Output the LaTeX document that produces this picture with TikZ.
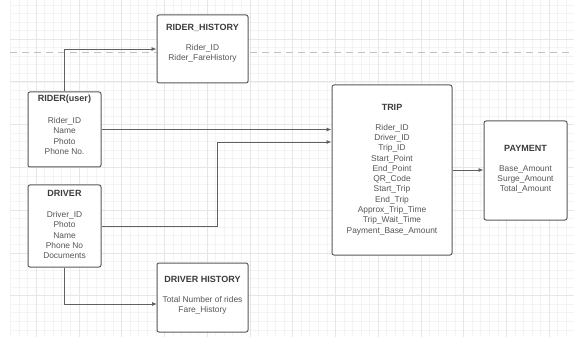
\documentclass[tikz,border=0pt]{standalone}
\usepackage{fontspec}
\setmainfont{Liberation Sans}
\usetikzlibrary{arrows.meta}
\definecolor{boxline}{HTML}{5A5A5A}
\definecolor{txt}{HTML}{555555}
\definecolor{ttl}{HTML}{3C3C3C}
\definecolor{minorgrid}{HTML}{F4F4F4}
\definecolor{majorgrid}{HTML}{E6E6E6}
\definecolor{dashcol}{HTML}{C2C2C2}
\definecolor{conn}{HTML}{606060}
\tikzset{
  entity/.style={draw=boxline, line width=1pt, rounded corners=2pt, fill=white, inner sep=0pt},
  ttext/.style={font=\bfseries\fontsize{9}{11}\selectfont, text=ttl, inner sep=0pt},
  btext/.style={font=\fontsize{8.4}{10.3}\selectfont, text=txt, align=center, inner sep=0pt},
  conn/.style={draw=conn, line width=0.8pt, -{Latex[length=5pt,width=4pt]}},
}
\begin{document}
\begin{tikzpicture}[x=1pt,y=-1pt]
\useasboundingbox (0,0) rectangle (574,337);
\fill[white] (0,0) rectangle (574,337);
% grid
\foreach \i in {0,...,66} {
  \draw[minorgrid, line width=0.4pt] ({10.35+8.55*\i},0) -- ({10.35+8.55*\i},337);
}
\foreach \j in {0,...,39} {
  \draw[minorgrid, line width=0.4pt] (10,{4.8+8.55*\j}) -- (574,{4.8+8.55*\j});
}
\foreach \i in {0,...,12} {
  \draw[majorgrid, line width=0.5pt] ({36+42.75*\i},0) -- ({36+42.75*\i},337);
}
\foreach \j in {0,...,7} {
  \draw[majorgrid, line width=0.5pt] (10,{39+42.75*\j}) -- (574,{39+42.75*\j});
}
\draw[dashcol, line width=1pt, dash pattern=on 7pt off 5pt] (10,53) -- (574,53);

% boxes
\node[entity, minimum width=91pt, minimum height=68pt] (rh) at (202.5,49) {};
\node[entity, minimum width=73pt, minimum height=75pt] (rider) at (64.5,129.5) {};
\node[entity, minimum width=73pt, minimum height=82pt] (driver) at (64.5,226) {};
\node[entity, minimum width=91pt, minimum height=69pt] (dh) at (202.5,297.5) {};
\node[entity, minimum width=120pt, minimum height=170pt] (trip) at (392,170) {};
\node[entity, minimum width=83pt, minimum height=99pt] (pay) at (525.5,170.5) {};

% texts
\node[ttext] (rhT) at (202.5,28) {RIDER\_HISTORY};
\node[btext] (rhB) at (202.5,53.5) {Rider\_ID\\Rider\_FareHistory};
\node[ttext] (riderT) at (64.5,99) {RIDER(user)};
\node[btext] (riderB) at (64.5,136) {Rider\_ID\\Name\\Photo\\Phone No.};
\node[ttext] (driverT) at (64.5,193) {DRIVER};
\node[btext] (driverB) at (64.5,235) {Driver\_ID\\Photo\\Name\\Phone No\\Documents};
\node[ttext] (dhT) at (202.5,279) {DRIVER HISTORY};
\node[btext] (dhB) at (202.5,305.5) {Total Number of rides\\Fare\_History};
\node[ttext] (tripT) at (392,107) {TRIP};
\node[btext] (tripB) at (392,179.5) {Rider\_ID\\Driver\_ID\\Trip\_ID\\Start\_Point\\End\_Point\\QR\_Code\\Start\_Trip\\End\_Trip\\Approx\_Trip\_Time\\Trip\_Wait\_Time\\Payment\_Base\_Amount};
\node[ttext] (payT) at (525.5,148) {PAYMENT};
\node[btext] (payB) at (525.5,179.5) {Base\_Amount\\Surge\_Amount\\Total\_Amount};

% connectors
\coordinate (dbend) at (217,142);
\coordinate (dhin) at (157,304);
\draw[conn] (rider.north) |- (rh.west);
\draw[conn] (rider.east) -- (rider.east -| trip.west);
\draw[conn] (driver.east) -| (dbend) -- (dbend -| trip.west);
\draw[conn] (trip.east) -- (trip.east -| pay.west);
\draw[conn] (driver.south) |- (dhin);
\end{tikzpicture}
\end{document}
